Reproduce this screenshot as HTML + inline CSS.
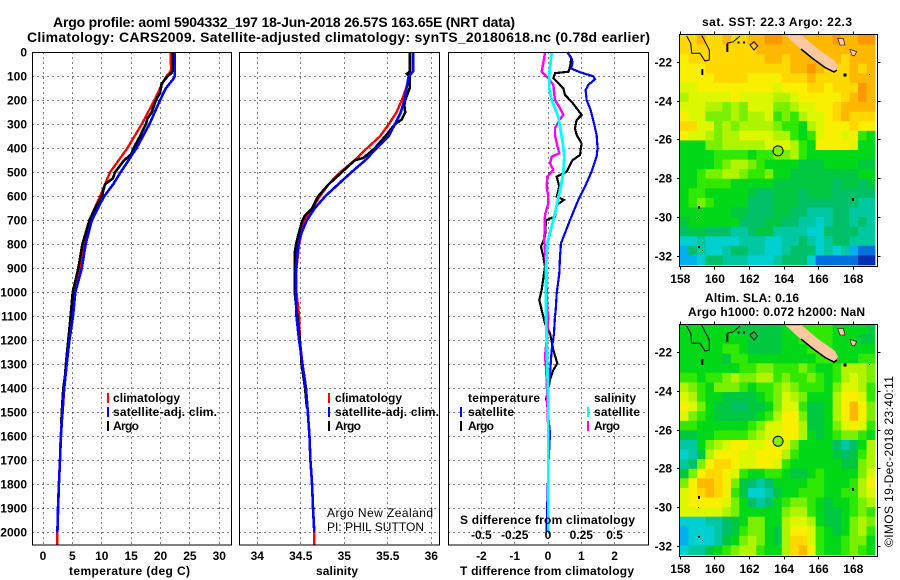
<!DOCTYPE html>
<html>
<head>
<meta charset="utf-8">
<title>Argo profile</title>
<style>
html,body{margin:0;padding:0;background:#fff;}
svg{display:block;}
text{font-family:"Liberation Sans",sans-serif;fill:#000;}
.b{font-weight:bold;font-size:12px;}
.t{font-weight:bold;font-size:14px;}
.n{font-size:12px;}
</style>
</head>
<body>
<svg id="chart" width="900" height="580" viewBox="0 0 900 580">
<rect width="900" height="580" fill="#fff"/>
<text class="t" x="53" y="27" textLength="462" lengthAdjust="spacing">Argo profile: aoml 5904332_197 18-Jun-2018 26.57S 163.65E (NRT data)</text>
<text class="t" x="27" y="42" textLength="623" lengthAdjust="spacing">Climatology: CARS2009. Satellite-adjusted climatology: synTS_20180618.nc (0.78d earlier)</text>

<g id="grids"></g>
<g id="lines"></g>
<g id="axes"></g>

<!-- legends -->
<g>
<rect x="107" y="393" width="2" height="10" fill="#f00"/>
<text class="b" x="113" y="402" textLength="67" lengthAdjust="spacing">climatology</text>
<rect x="107" y="407" width="2" height="10" fill="#00f"/>
<text class="b" x="113" y="416" textLength="104" lengthAdjust="spacing">satellite-adj. clim.</text>
<rect x="107" y="421" width="2" height="10" fill="#000"/>
<text class="b" x="113" y="430" textLength="26" lengthAdjust="spacing">Argo</text>
</g>
<g>
<rect x="328" y="393" width="2" height="10" fill="#f00"/>
<text class="b" x="335" y="402" textLength="67" lengthAdjust="spacing">climatology</text>
<rect x="328" y="407" width="2" height="10" fill="#00f"/>
<text class="b" x="335" y="416" textLength="104" lengthAdjust="spacing">satellite-adj. clim.</text>
<rect x="328" y="421" width="2" height="10" fill="#000"/>
<text class="b" x="335" y="430" textLength="26" lengthAdjust="spacing">Argo</text>
</g>
<g>
<text class="b" x="468" y="402" textLength="72" lengthAdjust="spacing">temperature</text>
<rect x="460" y="407" width="2" height="10" fill="#00f"/>
<text class="b" x="468" y="416" textLength="46" lengthAdjust="spacing">satellite</text>
<rect x="460" y="421" width="2" height="10" fill="#000"/>
<text class="b" x="468" y="430" textLength="26" lengthAdjust="spacing">Argo</text>
<text class="b" x="594" y="402" textLength="42" lengthAdjust="spacing">salinity</text>
<rect x="587" y="407" width="2" height="10" fill="#0ff"/>
<text class="b" x="594" y="416" textLength="46" lengthAdjust="spacing">satellite</text>
<rect x="587" y="421" width="2" height="10" fill="#f0f"/>
<text class="b" x="594" y="430" textLength="26" lengthAdjust="spacing">Argo</text>
</g>

<text class="n" x="327" y="517" textLength="106" lengthAdjust="spacing">Argo New Zealand</text>
<text class="n" x="327" y="531" textLength="97" lengthAdjust="spacing">PI: PHIL SUTTON</text>

<text class="b" x="69" y="575" textLength="121" lengthAdjust="spacing">temperature (deg C)</text>
<text class="b" x="316" y="575" textLength="42" lengthAdjust="spacing">salinity</text>
<text class="b" x="460" y="575" textLength="174" lengthAdjust="spacing">T difference from climatology</text>
<text class="b" x="460" y="524" textLength="175" lengthAdjust="spacing">S difference from climatology</text>

<!-- maps -->
<g id="maps"></g>

<defs>
<g id="coast">
<polyline points="686.7,36 690.7,43.3 691.7,53.3 700,53.3 705,61 709.3,60 709.3,50 703.3,38.3 701.7,35.5" fill="none" stroke="#000" stroke-width="1"/>
<polyline points="727.3,51.7 727.3,43.3 733.3,41.7 740,36" fill="none" stroke="#000" stroke-width="1"/>
<line x1="727.3" y1="44" x2="727.3" y2="52" stroke="#000" stroke-width="2"/>
<rect x="737.5" y="41.5" width="2" height="2" fill="#000"/>
<rect x="743" y="41.5" width="2" height="2" fill="#000"/>
<polygon points="750,45 754,41.7 757.7,46 754,50" fill="none" stroke="#000" stroke-width="1"/>
<line x1="702.3" y1="69" x2="702.3" y2="75" stroke="#000" stroke-width="2"/>
<polygon points="786,35.5 802,35.5 818,49 835,61 838,67 834,72 825,67 810,56 797,46" fill="#ffc8a0"/>
<polyline points="801,49 812,58 825,67.5 834,72 837,70" fill="none" stroke="#000" stroke-width="1.5"/>
<polygon points="837.7,38.3 843.3,38.3 845,45 840,45" fill="#ffc8a0" stroke="#000" stroke-width="0.6"/>
<polygon points="850,49.3 856.7,51.7 854.3,56 851.7,55" fill="#ffc8a0" stroke="#000" stroke-width="0.6"/>
<rect x="843.5" y="73.5" width="3" height="3" fill="#000"/>
<rect x="869" y="74" width="1" height="1" fill="#000"/>
<rect x="852" y="198" width="2" height="3" fill="#000"/>
<rect x="698" y="206" width="2" height="3" fill="#000"/>
<rect x="698" y="217" width="1" height="1" fill="#000"/>
<rect x="698" y="246" width="2" height="2" fill="#000"/>
<rect x="702" y="250" width="1" height="1" fill="#000"/>
</g>
</defs>

<text class="b" x="702" y="26" textLength="150" lengthAdjust="spacing">sat. SST: 22.3 Argo: 22.3</text>
<text class="b" x="705" y="302" textLength="94" lengthAdjust="spacing">Altim. SLA: 0.16</text>
<text class="b" x="688" y="316" textLength="177" lengthAdjust="spacing">Argo h1000: 0.072 h2000: NaN</text>
<text class="n" transform="translate(893,547) rotate(-90)" textLength="171" lengthAdjust="spacing">©IMOS 19-Dec-2018 23:40:11</text>
</svg>

<script>
// ---- axis ticks ----
const depthTicks = [0,100,200,300,400,500,600,700,800,900,1000,1100,1200,1300,1400,1500,1600,1700,1800,1900,2000];
const tempTicks = [0,5,10,15,20,25,30];
const salTicks = [34,34.5,35,35.5,36];
const tDiffTicks = [-2,-1,0,1,2];
const sDiffTicks = [-0.5,-0.25,0,0.25,0.5];
const lonTicks = [158,160,162,164,166,168];
const latTicks = [-22,-24,-26,-28,-30,-32];

// ---- temperature panel ----
const tClimDepth = [0,70,80,100,130,200,300,400,500,550,600,700,800,900,1000,1100,1200,1300,1400,1500,1600,1700,1800,1900,2000,2054];
const tClimVals = [21.7,21.8,21.7,21.0,20.3,18.95,16.8,14.35,11.4,10.55,9.7,7.9,7.15,6.3,5.3,4.9,4.3,3.9,3.6,3.35,3.0,2.9,2.7,2.6,2.45,2.4];
const tSatDepth = [0,100,110,150,200,300,400,500,550,600,700,800,900,1000,1100,1200,1300,1400,1500,1600,1700,1800,1900,2000];
const tSatVals = [22.45,22.4,22.2,20.9,19.9,18.1,15.9,13.2,11.95,10.4,8.3,7.25,6.6,5.5,5.1,4.5,4.03,3.6,3.3,3.05,2.9,2.7,2.55,2.45];
const tArgoDepth = [0,70,85,100,130,170,200,250,275,300,350,400,425,450,500,525,550,600,650,700,750,800,900,1000,1100,1200,1300,1350,1400,1500,1550];
const tArgoVals = [22.1,22.1,21.9,21.2,20.2,19.9,19.2,18.5,17.8,17.5,16.5,15.4,15.0,13.8,12.25,11.9,10.55,10,8.85,7.9,7.3,6.7,6,5.05,4.7,4.3,3.9,3.75,3.45,3.2,3.1];

// ---- salinity panel ----
const sClimDepth = [0,80,100,150,200,250,300,350,400,450,500,550,600,650,700,750,800,900,1000,1100,1200,1300,1400,1500,1600,1700,1800,1900,2000,2054];
const sClimVals = [35.786,35.786,35.75,35.71,35.66,35.6,35.51,35.41,35.26,35.12,34.95,34.82,34.72,34.63,34.55,34.51,34.48,34.45,34.45,34.48,34.49,34.52,34.56,34.58,34.6,34.61,34.63,34.64,34.655,34.655];
const sSatDepth = [0,80,90,100,200,250,300,350,400,450,500,550,600,650,700,750,800,900,1000,1100,1200,1300,1400,1500,1600,1700,1800,1900,2000];
const sSatVals = [35.79,35.79,35.76,35.74,35.69,35.65,35.58,35.51,35.37,35.24,35.08,34.93,34.78,34.66,34.57,34.51,34.47,34.445,34.44,34.45,34.48,34.52,34.56,34.58,34.6,34.61,34.63,34.64,34.655];
const sArgoDepth = [0,80,90,100,150,200,220,250,280,300,350,400,440,450,500,550,600,650,680,700,750,800,840,900,1000,1100,1200,1300,1350,1400,1480];
const sArgoVals = [35.75,35.75,35.72,35.75,35.75,35.7,35.69,35.7,35.66,35.58,35.47,35.35,35.22,35.12,34.97,34.82,34.7,34.63,34.55,34.52,34.48,34.445,34.43,34.43,34.43,34.46,34.49,34.51,34.53,34.55,34.57];

// ---- difference panel ----
const dTSatDepth = [0,25,45,67,83,100,112,136,157,199,240,296,344,400,435,497,560,615,699,796,851,921,1004,1074,1100,1171,1240,1337,1449,1588,1726,1976,2000];
const dTSatVals = [0.58,0.71,0.74,0.69,0.96,1.36,1.41,1.21,1.13,1.16,1.28,1.38,1.46,1.49,1.46,1.31,1.11,0.91,0.66,0.39,0.36,0.34,0.26,0.23,0.21,0.18,0.11,0.06,-0.04,0.06,0.01,-0.04,-0.04];
const dTArgoDepth = [0,25,60,81,87,108,122,150,178,206,233,261,282,317,344,379,428,449,497,518,560,601,615,636,685,699,768,810,851,893,990,1032,1074,1129,1171,1240,1296,1324,1365,1449];
const dTArgoVals = [0.58,0.7,0.66,0.62,0.21,0.16,0.26,0.46,0.51,0.71,0.86,1.01,0.86,0.81,0.86,1.01,0.96,0.74,0.56,0.26,0.34,0.26,0.48,0.26,0.21,-0.06,-0.09,-0.21,-0.14,-0.09,-0.19,-0.26,-0.19,-0.09,0.06,0.16,0.28,0.16,0.06,-0.06];
const dSArgoDepth = [0,28,81,94,108,136,199,233,261,282,317,344,379,421,435,463,490,518,560,601,629,678,782,893,1004,1074,1100,1171,1268,1310,1365,1449,1546];
const dSArgoVals = [-0.0225,-0.03,-0.0475,-0.0225,0.0025,0.04,0.0525,0.09,0.115,0.085,0.0525,0.0525,0.065,0.085,0.0275,0.015,0.04,-0.005,-0.01,0.0025,0.0025,-0.0225,-0.0275,-0.015,-0.01,-0.005,0.0025,-0.005,-0.0225,-0.015,-0.01,-0.005,0];
const dSSatDepth = [0,87,157,199,268,365,435,504,574,671,754,796,921,1074,1100,1199,1310,1449,1588,2000];
const dSSatVals = [0.0275,0.01,0.01,0.0275,0.0775,0.1075,0.1225,0.115,0.09,0.0525,0.015,-0.005,-0.0175,-0.015,-0.015,-0.01,-0.005,0.0025,0.0025,0.0025];

// ---- satellite SST map: colour level per cell ----
const sstGrid = [
[13,13,14,13,13,14,13,13,14,14,15,15,14,14,14,14,14,14,15,14,14,15,15],
[13,13,13,13,13,13,13,13,13,14,14,14,14,14,14,14,14,14,14,14,14,14,14],
[12,13,13,13,13,13,13,13,13,13,14,14,13,14,14,14,14,14,14,13,14,14,14],
[12,12,12,13,13,13,13,13,13,13,13,13,13,14,14,15,14,13,13,13,14,13,14],
[12,12,12,12,13,13,13,13,12,12,12,12,13,13,13,14,13,13,13,13,14,14,14],
[11,11,12,12,12,12,12,12,12,12,12,11,12,12,12,13,13,12,13,13,13,15,14],
[10,11,11,11,11,11,12,11,11,11,11,10,10,11,12,12,12,12,12,13,14,15,14],
[11,11,11,10,10,9,10,9,11,11,11,9,9,10,11,11,12,12,13,14,14,14,14],
[12,11,11,9,9,9,10,9,10,10,11,8,9,8,10,11,11,12,13,14,13,13,13],
[13,13,11,11,9,10,9,10,10,10,10,9,8,8,7,10,11,12,12,12,13,12,12],
[12,11,11,10,9,10,10,11,11,11,11,10,10,8,7,8,11,12,12,11,12,8,7],
[7,7,7,9,9,10,10,10,10,10,11,11,11,10,8,7,12,12,12,12,11,7,7],
[7,7,7,7,8,8,8,8,7,8,8,9,9,10,8,7,7,7,7,7,7,7,7],
[7,7,7,7,8,9,10,10,9,8,7,7,7,7,6,6,6,7,7,7,7,6,6],
[7,7,8,9,9,10,10,9,8,8,9,7,7,6,6,6,6,6,6,6,6,7,7],
[7,7,8,8,8,8,7,7,7,7,7,6,6,6,6,6,6,6,5,6,6,5,6],
[7,8,8,7,7,7,7,7,6,5,5,6,6,6,5,6,6,6,5,5,5,5,5],
[7,8,9,8,7,7,7,7,5,5,5,6,6,6,5,5,5,5,5,5,5,4,4],
[7,7,7,7,7,7,6,6,5,5,5,6,6,5,5,4,4,4,5,5,4,4,4],
[6,7,7,7,7,7,7,5,5,5,6,6,5,5,4,4,3,4,5,5,4,5,4],
[5,6,6,5,5,5,4,4,5,6,6,4,4,4,4,3,3,5,5,5,5,4,4],
[3,3,4,3,3,3,3,4,4,4,3,3,4,4,5,4,3,4,5,5,4,4,4],
[2,5,4,3,3,4,5,5,4,4,3,3,4,5,5,5,3,4,3,4,2,1,1],
[2,2,3,5,5,4,4,4,3,3,3,4,5,5,5,3,1,1,1,1,1,0,0]
];

// ---- altimetry SLA map: colour level per cell ----
const slaGrid = [
[7,7,7,7,7,7,7,6,6,6,6,6,7,7,8,8,8,8,7,7,7,7,6],
[7,7,7,7,7,7,7,7,6,6,6,6,7,7,8,8,8,8,7,7,7,6,6],
[7,7,7,7,7,8,8,7,6,6,6,6,7,7,7,8,8,8,7,7,7,7,7],
[7,7,7,7,7,6,8,8,7,7,7,7,7,7,7,7,8,8,7,7,7,8,8],
[7,7,7,7,7,7,7,8,8,9,9,8,8,8,9,8,7,7,8,10,10,10,9],
[8,8,7,8,8,9,10,9,9,10,10,8,9,8,8,9,8,7,8,10,11,10,9],
[10,9,8,7,9,9,9,8,7,8,8,9,10,9,8,8,8,7,9,11,11,10,8],
[11,10,8,7,7,6,6,6,6,7,8,9,11,10,9,7,7,7,10,12,12,11,8],
[12,11,9,7,6,6,5,5,6,6,7,9,11,11,8,6,6,7,10,12,14,12,9],
[11,9,8,7,6,6,6,6,6,7,8,10,12,12,9,6,6,7,10,12,14,12,9],
[8,8,7,7,7,7,7,7,8,9,11,11,12,12,10,6,6,7,9,11,12,11,8],
[6,6,7,7,8,8,8,8,9,10,11,11,12,12,10,7,6,7,8,9,9,8,7],
[4,4,7,9,10,11,12,12,11,11,12,12,11,9,7,7,7,7,5,4,5,7,10],
[3,4,6,10,12,12,12,11,11,12,12,12,10,8,7,7,7,7,6,5,6,8,10],
[4,5,9,12,13,13,12,11,11,12,12,11,8,7,7,7,7,7,7,6,6,9,10],
[6,9,12,13,13,12,11,8,7,7,8,8,7,6,6,7,8,7,7,7,7,9,11],
[9,12,14,14,13,12,9,6,5,4,5,7,7,7,7,8,8,7,7,7,8,10,12],
[11,12,13,14,13,12,8,6,3,3,4,6,7,7,8,8,8,7,7,8,8,10,11],
[11,12,12,12,12,11,9,7,5,4,5,7,8,9,9,8,7,6,7,7,8,9,10],
[11,11,11,11,11,10,9,7,7,7,7,7,9,10,10,8,7,6,6,7,8,9,8],
[3,3,3,4,4,5,6,7,9,9,7,7,10,11,11,10,7,6,6,7,9,10,9],
[2,3,3,3,4,5,6,8,9,9,7,6,10,12,12,11,8,7,6,7,9,10,8],
[2,3,3,3,4,6,7,9,10,9,7,6,10,13,13,11,8,7,7,8,9,9,7],
[3,4,4,6,7,8,9,10,10,8,7,7,10,13,14,12,8,7,7,8,9,8,7]
];

// colour scale: level index to colour
const levelColors = ['#0030b0','#0070e0','#00b0f0','#00d0d0','#00c8a0','#00c068','#00c840','#00d818','#30e800','#78f000','#b0f400','#dcf800','#f8f000','#ffd800','#ffb800','#ff9800'];

// ---- panels ----
const NS = 'http://www.w3.org/2000/svg';
const TOP = 52.3, BOT = 545;
const yD = d => TOP + d * 0.24;
const xT = v => 43 + v * 5.877;
const xS = v => 257.3 + (v - 34) * 87;
const xDT = v => 548 + v * 33.3;
const xDS = v => 548 + v * 133.2;
const snap = v => Math.round(v - 0.5) + 0.5;

function mk(tag, parent) {
  const el = document.createElementNS(NS, tag);
  parent.appendChild(el);
  return el;
}

const grids = document.getElementById('grids');
const axes = document.getElementById('axes');
const lines = document.getElementById('lines');

function panel(x0, x1, xTicks, xf, baseName) {
  depthTicks.forEach(d => {
    const l = mk('line', grids);
    
    
    l.setAttribute('x1', x0); l.setAttribute('x2', x1);
    l.setAttribute('y1', snap(yD(d))); l.setAttribute('y2', snap(yD(d)));
    l.setAttribute('stroke', '#000');
    l.setAttribute('stroke-dasharray', '1 4');
    l.setAttribute('shape-rendering', 'crispEdges');
  });
  xTicks.forEach(v => {
    const l = mk('line', grids);
    
    
    l.setAttribute('x1', snap(xf(v))); l.setAttribute('x2', snap(xf(v)));
    l.setAttribute('y1', TOP); l.setAttribute('y2', BOT);
    l.setAttribute('stroke', '#000');
    l.setAttribute('stroke-dasharray', '1 4');
    l.setAttribute('shape-rendering', 'crispEdges');
  });
  const r = mk('rect', axes);
  
  
  r.setAttribute('x', x0); r.setAttribute('y', 52.5);
  r.setAttribute('width', x1 - x0); r.setAttribute('height', BOT - 52.5);
  r.setAttribute('fill', 'none');
  r.setAttribute('stroke', '#000');
  r.setAttribute('shape-rendering', 'crispEdges');
  xTicks.forEach(v => {
    const t = mk('text', axes);
    
    
    t.setAttribute('class', 'b');
    t.setAttribute('x', xf(v)); t.setAttribute('y', 560);
    t.setAttribute('text-anchor', 'middle');
    t.textContent = String(v);
  });
}

panel(32.5, 231.5, tempTicks, xT, 'temperature-panel');
panel(239.5, 439.5, salTicks, xS, 'salinity-panel');
panel(448.5, 648.5, tDiffTicks, xDT, 'difference-panel');

depthTicks.forEach(d => {
  const t = mk('text', axes);
  
  
  t.setAttribute('class', 'b');
  t.setAttribute('x', 27); t.setAttribute('y', yD(d) + 4);
  t.setAttribute('text-anchor', 'end');
  t.textContent = String(d);
});
sDiffTicks.forEach(v => {
  const t = mk('text', axes);
  
  
  t.setAttribute('class', 'b');
  t.setAttribute('x', xDS(v)); t.setAttribute('y', 539);
  t.setAttribute('text-anchor', 'middle');
  t.textContent = String(v);
});

function drawLine(depths, vals, xf, color, width, name) {
  const p = mk('polyline', lines);
  
  
  p.setAttribute('points', depths.map((d, i) => xf(vals[i]).toFixed(1) + ',' + yD(d).toFixed(1)).join(' '));
  p.setAttribute('fill', 'none');
  p.setAttribute('stroke', color);
  p.setAttribute('stroke-width', width);
  p.setAttribute('shape-rendering', 'crispEdges');
}

drawLine(tClimDepth, tClimVals, xT, '#f00', 2.4, 'temperature-climatology-line');
drawLine(tArgoDepth, tArgoVals, xT, '#000', 2.6, 'temperature-argo-line');
drawLine(tSatDepth, tSatVals, xT, '#00f', 2.6, 'temperature-satellite-line');

drawLine(sClimDepth, sClimVals, xS, '#f00', 2.4, 'salinity-climatology-line');
drawLine(sArgoDepth, sArgoVals, xS, '#000', 2.6, 'salinity-argo-line');
drawLine(sSatDepth, sSatVals, xS, '#00f', 2.6, 'salinity-satellite-line');

drawLine(dTArgoDepth, dTArgoVals, xDT, '#000', 2.2, 'difference-t-argo-line');
drawLine(dTSatDepth, dTSatVals, xDT, '#00f', 2.2, 'difference-t-satellite-line');
drawLine(dSArgoDepth, dSArgoVals, xDS, '#f0f', 2.4, 'difference-s-argo-line');
drawLine(dSSatDepth, dSSatVals, xDS, '#0ff', 2.8, 'difference-s-satellite-line');

// ---- maps ----
const maps = document.getElementById('maps');
const lonX = lon => 680.3 + (lon - 158) * 17.3;
const latY = (lat, y22) => y22 + (-22 - lat) * 19.37;

function drawMap(grid, top, y22, baseName, floatColor) {
  const left = 680, cw = 195 / 23, ch = 230 / 24;
  const g = mk('g', maps);
  
  
  grid.forEach((row, r) => {
    row.forEach((lv, c) => {
      const cell = mk('rect', g);
      
      
      cell.setAttribute('x', (left + c * cw).toFixed(2));
      cell.setAttribute('y', (top + r * ch).toFixed(2));
      cell.setAttribute('width', (cw + 0.4).toFixed(2));
      cell.setAttribute('height', (ch + 0.4).toFixed(2));
      cell.setAttribute('fill', levelColors[lv]);
    });
  });
  const coast = mk('use', g);
  
  
  coast.setAttribute('href', '#coast');
  coast.setAttribute('y', top - 35);

  const frame = mk('rect', g);
  
  
  frame.setAttribute('x', 679.5); frame.setAttribute('y', top - 0.5);
  frame.setAttribute('width', 198); frame.setAttribute('height', 232);
  frame.setAttribute('fill', 'none');
  frame.setAttribute('stroke', '#000');
  frame.setAttribute('shape-rendering', 'crispEdges');

  const bottom = top + 231.5;
  lonTicks.forEach(lon => {
    [[top - 0.5, top - 3.5], [bottom, bottom + 3]].forEach(pair => {
      const tk = mk('line', g);
      
      
      tk.setAttribute('x1', snap(lonX(lon))); tk.setAttribute('x2', snap(lonX(lon)));
      tk.setAttribute('y1', pair[0]); tk.setAttribute('y2', pair[1]);
      tk.setAttribute('stroke', '#000');
      tk.setAttribute('shape-rendering', 'crispEdges');
    });
    const t = mk('text', g);
    
    
    t.setAttribute('class', 'b');
    t.setAttribute('x', lonX(lon)); t.setAttribute('y', bottom + 16.5);
    t.setAttribute('text-anchor', 'middle');
    t.textContent = String(lon);
  });
  latTicks.forEach(lat => {
    const y = snap(latY(lat, y22));
    [[677, 680], [877.5, 880.5]].forEach(pair => {
      const tk = mk('line', g);
      
      
      tk.setAttribute('x1', pair[0]); tk.setAttribute('x2', pair[1]);
      tk.setAttribute('y1', y); tk.setAttribute('y2', y);
      tk.setAttribute('stroke', '#000');
      tk.setAttribute('shape-rendering', 'crispEdges');
    });
    const t = mk('text', g);
    
    
    t.setAttribute('class', 'b');
    t.setAttribute('x', 672); t.setAttribute('y', y + 4);
    t.setAttribute('text-anchor', 'end');
    t.textContent = String(lat);
  });
  const m = mk('circle', g);
  
  
  m.setAttribute('cx', lonX(163.65));
  m.setAttribute('cy', latY(-26.57, y22));
  m.setAttribute('r', 5);
  m.setAttribute('fill', floatColor);
  m.setAttribute('stroke', '#000');
}

drawMap(sstGrid, 35, 62.3, 'sst-map', '#80f000');
drawMap(slaGrid, 325, 352.7, 'sla-map', '#80f000');
</script>
</body>
</html>
